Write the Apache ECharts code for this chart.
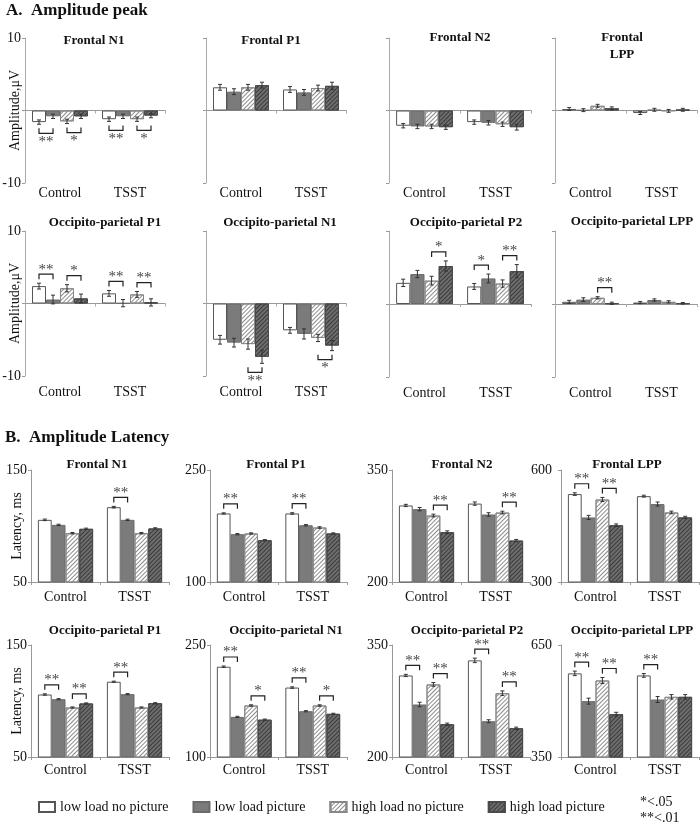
<!DOCTYPE html>
<html><head><meta charset="utf-8">
<script src="https://cdn.jsdelivr.net/npm/echarts@6/dist/echarts.min.js"></script>
<style>html,body{margin:0;padding:0;background:#fff}#c{width:700px;height:832px}</style>
</head><body><div id="c"></div>
<script>
// ---------- DATA ----------
const categories = ['Control', 'TSST'];
const conditions = ['low load no picture', 'low load picture', 'high load no picture', 'high load picture'];
// Rows = conditions (in the order above), columns = [Control, TSST]
// Significance entries: [categoryIndex, barA, barB, number of asterisks]

// Section A: amplitude peak (µV)
const ampFrontalN1 = [[-1.6, -1.2], [-0.8, -0.8], [-1.5, -1.2], [-0.8, -0.7]];
const ampFrontalN1Err = [[0.3, 0.3], [0.3, 0.3], [0.3, 0.3], [0.3, 0.3]];
const ampFrontalN1Sig = [[0, 0, 1, 2], [0, 2, 3, 1], [1, 0, 1, 2], [1, 2, 3, 1]];

const ampFrontalP1 = [[3.2, 2.9], [2.6, 2.5], [3.2, 3.1], [3.5, 3.4]];
const ampFrontalP1Err = [[0.4, 0.4], [0.4, 0.4], [0.4, 0.4], [0.4, 0.5]];
const ampFrontalP1Sig = [];

const ampFrontalN2 = [[-2.1, -1.6], [-2.2, -1.7], [-2.2, -1.9], [-2.3, -2.3]];
const ampFrontalN2Err = [[0.3, 0.3], [0.3, 0.3], [0.3, 0.3], [0.3, 0.4]];
const ampFrontalN2Sig = [];

const ampFrontalLPP = [[0.2, -0.35], [0.05, 0.1], [0.65, -0.05], [0.3, 0.1]];
const ampFrontalLPPErr = [[0.2, 0.2], [0.2, 0.2], [0.2, 0.2], [0.2, 0.2]];
const ampFrontalLPPSig = [];

const ampOccP1 = [[2.4, 1.4], [0.55, 0.05], [2.1, 1.25], [0.7, 0.15]];
const ampOccP1Err = [[0.4, 0.4], [0.6, 0.5], [0.5, 0.4], [0.6, 0.5]];
const ampOccP1Sig = [[0, 0, 1, 2], [0, 2, 3, 1], [1, 0, 1, 2], [1, 2, 3, 2]];

const ampOccN1 = [[-5.0, -3.7], [-5.4, -4.2], [-5.6, -4.75], [-7.35, -5.8]];
const ampOccN1Err = [[0.6, 0.4], [0.6, 0.7], [0.7, 0.5], [0.9, 0.7]];
const ampOccN1Sig = [[0, 2, 3, 2], [1, 2, 3, 1]];

const ampOccP2 = [[2.9, 2.4], [4.1, 3.5], [3.2, 2.8], [5.2, 4.5]];
const ampOccP2Err = [[0.5, 0.4], [0.5, 0.6], [0.6, 0.5], [0.7, 0.9]];
const ampOccP2Sig = [[0, 2, 3, 1], [1, 0, 1, 1], [1, 2, 3, 2]];

const ampOccLPP = [[0.3, 0.2], [0.6, 0.55], [0.85, 0.3], [0.1, 0.1]];
const ampOccLPPErr = [[0.2, 0.15], [0.25, 0.15], [0.15, 0.15], [0.15, 0.1]];
const ampOccLPPSig = [[0, 2, 3, 2]];

// Section B: latency (ms)
const latFrontalN1 = [[105.5, 116.8], [101, 105.5], [93.6, 93.6], [97.5, 97.8]];
const latFrontalN1Err = [[0.7, 0.7], [0.6, 0.6], [0.6, 0.6], [0.6, 0.6]];
const latFrontalN1Sig = [[1, 0, 1, 2]];

const latFrontalP1 = [[191.8, 191.8], [164, 176], [165, 173], [156, 165]];
const latFrontalP1Err = [[0.8, 1.0], [0.8, 0.9], [0.8, 1.0], [0.8, 0.8]];
const latFrontalP1Sig = [[0, 0, 1, 2], [1, 0, 1, 2]];

const latFrontalN2 = [[302.5, 305], [297.6, 290.4], [289, 293], [266.7, 255.5]];
const latFrontalN2Err = [[1.5, 2.2], [2.2, 2.4], [1.8, 1.8], [1.8, 1.5]];
const latFrontalN2Sig = [[0, 2, 3, 2], [1, 2, 3, 2]];

const latFrontalLPP = [[535.5, 530], [473, 508.7], [521, 486.3], [452, 473]];
const latFrontalLPPErr = [[3.5, 2.5], [5.5, 5.5], [5.5, 3.5], [3.5, 3]];
const latFrontalLPPSig = [[0, 0, 1, 2], [0, 2, 3, 2]];

const latOccP1 = [[105.8, 117.2], [101.6, 106.1], [94.2, 94.2], [97.8, 98]];
const latOccP1Err = [[0.6, 0.5], [0.5, 0.5], [0.5, 0.5], [0.5, 0.5]];
const latOccP1Sig = [[0, 0, 1, 2], [0, 2, 3, 2], [1, 0, 1, 2]];

const latOccN1 = [[220.9, 193], [153.7, 161.3], [169, 169], [150, 157.8]];
const latOccN1Err = [[1.0, 1.0], [0.8, 0.8], [0.9, 0.9], [0.8, 0.8]];
const latOccN1Sig = [[0, 0, 1, 2], [0, 2, 3, 1], [1, 0, 1, 2], [1, 2, 3, 1]];

const latOccP2 = [[309.2, 329.4], [270.3, 247.9], [297.2, 285.5], [243.9, 238.5]];
const latOccP2Err = [[1.5, 3], [3, 2], [2.5, 3], [1.5, 1.5]];
const latOccP2Sig = [[0, 0, 1, 2], [0, 2, 3, 2], [1, 0, 1, 2], [1, 2, 3, 2]];

const latOccLPP = [[574, 568.5], [499.6, 504], [555, 511.2], [464.7, 511.2]];
const latOccLPPErr = [[6, 5], [8, 8], [8, 6], [5, 6]];
const latOccLPPSig = [[0, 0, 1, 2], [0, 2, 3, 2], [1, 0, 1, 2]];

// Axis ranges (value-axis min/max)
const ampRange = [-10, 10];
const latRangesRow1 = [[50, 150], [100, 250], [200, 350], [300, 600]];
const latRangesRow2 = [[50, 150], [100, 250], [200, 350], [350, 650]];

const titlesA = ['Frontal N1', 'Frontal P1', 'Frontal N2', 'Frontal\nLPP',
  'Occipito-parietal P1', 'Occipito-parietal N1', 'Occipito-parietal P2', 'Occipito-parietal LPP'];
const titlesB = ['Frontal N1', 'Frontal P1', 'Frontal N2', 'Frontal LPP',
  'Occipito-parietal P1', 'Occipito-parietal N1', 'Occipito-parietal P2', 'Occipito-parietal LPP'];

// ---------- LAYOUT ----------
const FONT = '"Liberation Serif", "Times New Roman", serif';
const gridA = [
  [25, 38, 140, 145], [206, 38, 140, 145], [389, 38, 142, 145], [555, 38, 142, 145],
  [25, 231, 140, 145], [206, 231, 140, 145], [389, 231, 142, 146], [555, 231, 142, 146]
];
const gridB = [
  [31, 470, 138, 112], [210, 470, 137, 112], [392, 470, 138, 112], [561, 470, 138, 112],
  [31, 645, 138, 112], [210, 645, 137, 112], [392, 645, 138, 112], [561, 645, 138, 112]
];
const titlePosA = [[94, 41], [271, 41], [460, 38], [622, 46], [105, 223], [280, 223], [466, 223], [632, 222]];
const titlePosB = [[97, 465], [276, 465], [462, 465], [627, 465], [105, 631], [286, 631], [467, 631], [632, 631]];

const panelsA = [
  [ampFrontalN1, ampFrontalN1Err, ampFrontalN1Sig],
  [ampFrontalP1, ampFrontalP1Err, ampFrontalP1Sig],
  [ampFrontalN2, ampFrontalN2Err, ampFrontalN2Sig],
  [ampFrontalLPP, ampFrontalLPPErr, ampFrontalLPPSig],
  [ampOccP1, ampOccP1Err, ampOccP1Sig],
  [ampOccN1, ampOccN1Err, ampOccN1Sig],
  [ampOccP2, ampOccP2Err, ampOccP2Sig],
  [ampOccLPP, ampOccLPPErr, ampOccLPPSig]
];
const panelsB = [
  [latFrontalN1, latFrontalN1Err, latFrontalN1Sig],
  [latFrontalP1, latFrontalP1Err, latFrontalP1Sig],
  [latFrontalN2, latFrontalN2Err, latFrontalN2Sig],
  [latFrontalLPP, latFrontalLPPErr, latFrontalLPPSig],
  [latOccP1, latOccP1Err, latOccP1Sig],
  [latOccN1, latOccN1Err, latOccN1Sig],
  [latOccP2, latOccP2Err, latOccP2Sig],
  [latOccLPP, latOccLPPErr, latOccLPPSig]
];

// ---------- STYLES ----------
const barStyles = [
  { color: '#ffffff', borderColor: '#555', borderWidth: 1 },
  { color: '#7b7b7b', borderColor: '#6a6a6a', borderWidth: 1 },
  { color: '#ffffff', borderColor: '#888', borderWidth: 1,
    decal: { symbol: 'rect', symbolSize: 1, dashArrayX: [1, 0], dashArrayY: [1, 2], rotation: -Math.PI / 4, color: '#8c8c8c' } },
  { color: '#6e6e6e', borderColor: '#4a4a4a', borderWidth: 1,
    decal: { symbol: 'rect', symbolSize: 1, dashArrayX: [1, 0], dashArrayY: [1, 2], rotation: -Math.PI / 4, color: '#3a3a3a' } }
];
const BAR_FRAC = 0.8;

function barX(api, c, i, v) {
  const band = api.size([1, 0])[0];
  const bw = band * BAR_FRAC / 4;
  const cx = api.coord([c, v])[0];
  return cx - band * BAR_FRAC / 2 + bw * (i + 0.5);
}

function errRender(params, api) {
  const c = api.value(0), i = api.value(1), v = api.value(2), e = api.value(3);
  const x = barX(api, c, i, v);
  const y1 = api.coord([c, v + e])[1];
  const y2 = api.coord([c, v - e])[1];
  const st = { stroke: '#333', lineWidth: 1 };
  return { type: 'group', children: [
    { type: 'line', shape: { x1: x, y1: y1, x2: x, y2: y2 }, style: st },
    { type: 'line', shape: { x1: x - 2, y1: y1, x2: x + 2, y2: y1 }, style: st },
    { type: 'line', shape: { x1: x - 2, y1: y2, x2: x + 2, y2: y2 }, style: st }
  ]};
}

function sigRender(params, api) {
  const c = api.value(0), a = api.value(1), b = api.value(2), n = api.value(3);
  const ext = api.value(4), dir = api.value(5);
  const xa = barX(api, c, a, ext), xb = barX(api, c, b, ext);
  const yExt = api.coord([c, ext])[1];
  const leg = 5;
  const y = dir > 0 ? yExt - 9 : yExt + 9;
  const yl = dir > 0 ? y + leg : y - leg;
  const st = { stroke: '#222', lineWidth: 1.2, fill: null };
  return { type: 'group', children: [
    { type: 'polyline', shape: { points: [[xa, yl], [xa, y], [xb, y], [xb, yl]] }, style: st },
    { type: 'text', style: { x: (xa + xb) / 2, y: dir > 0 ? y + 3 : y + 1, text: '*'.repeat(n),
      font: '15px ' + FONT, fill: '#444', align: 'center', verticalAlign: dir > 0 ? 'bottom' : 'top' } }
  ]};
}

// ---------- BUILD ----------
const grids = [], xAxes = [], yAxes = [], series = [], graphics = [];

function addPanel(vals, errs, sigs, rect, sec, idx, range) {
  const g = grids.length;
  grids.push({ left: rect[0], top: rect[1], width: rect[2], height: rect[3],
    containLabel: false, outerBoundsMode: 'none' });
  const col = idx % 4, row = Math.floor(idx / 4);
  const mainX = xAxes.length;
  if (sec === 'A') {
    xAxes.push({ gridIndex: g, type: 'category', data: categories,
      axisLine: { onZero: true, lineStyle: { color: '#999', width: 1.2 } },
      axisTick: { show: true, length: 3, lineStyle: { color: '#aaa' } },
      axisLabel: { show: false }, splitLine: { show: false } });
    xAxes.push({ gridIndex: g, type: 'category', data: categories, position: 'bottom',
      axisLine: { show: false, onZero: false }, axisTick: { show: false },
      axisLabel: { margin: row === 0 ? 3 : 9, fontFamily: FONT, fontSize: 14, color: '#111' } });
  } else {
    xAxes.push({ gridIndex: g, type: 'category', data: categories,
      axisLine: { onZero: false, lineStyle: { color: '#999' } },
      axisTick: { show: true, length: 3, lineStyle: { color: '#999' } },
      axisLabel: { margin: row === 0 ? 8 : 6, fontFamily: FONT, fontSize: 14, color: '#111' } });
  }
  const showLabels = sec === 'B' || col === 0;
  const y = { gridIndex: g, type: 'value', min: range[0], max: range[1],
    interval: sec === 'A' ? 10 : range[1] - range[0],
    axisLine: { show: true, lineStyle: { color: sec === 'A' ? '#aaa' : '#999' } },
    axisTick: { show: true, length: 3, lineStyle: { color: '#999' } },
    splitLine: { show: false },
    axisLabel: { show: showLabels, fontFamily: FONT, fontSize: 14, color: '#111',
      margin: (sec === 'B' && col === 3) ? 9 : 4,
      formatter: v => (v === 0 ? '' : String(v)) } };
  if (col === 0) {
    y.name = sec === 'A' ? 'Amplitude,μV' : 'Latency, ms';
    y.nameLocation = 'middle';
    y.nameGap = sec === 'A' ? 3 : 7;
    y.nameMoveOverlap = false;
    y.nameTextStyle = { fontFamily: FONT, fontSize: 14, color: '#111' };
  }
  yAxes.push(y);

  for (let i = 0; i < 4; i++) {
    series.push({ type: 'bar', name: conditions[i], xAxisIndex: mainX, yAxisIndex: g,
      data: vals[i], barGap: '0%', barCategoryGap: ((1 - BAR_FRAC) * 100) + '%',
      itemStyle: barStyles[i], emphasis: { disabled: true }, silent: true });
  }
  const eData = [];
  for (let i = 0; i < 4; i++) for (let c = 0; c < 2; c++) eData.push([c, i, vals[i][c], errs[i][c]]);
  series.push({ type: 'custom', xAxisIndex: mainX, yAxisIndex: g, data: eData,
    encode: { x: 0, y: 2 }, renderItem: errRender, z: 5, silent: true });
  if (sigs.length) {
    const sData = sigs.map(s => {
      const [c, a, b, n] = s;
      const dir = vals[a][c] >= 0 ? 1 : -1;
      const ext = dir > 0 ? Math.max(vals[a][c] + errs[a][c], vals[b][c] + errs[b][c])
                          : Math.min(vals[a][c] - errs[a][c], vals[b][c] - errs[b][c]);
      return [c, a, b, n, ext, dir];
    });
    series.push({ type: 'custom', xAxisIndex: mainX, yAxisIndex: g, data: sData,
      encode: { x: 0, y: 4 }, renderItem: sigRender, z: 6, silent: true });
  }
}

panelsA.forEach((p, k) => addPanel(p[0], p[1], p[2], gridA[k], 'A', k, ampRange));
panelsB.forEach((p, k) => addPanel(p[0], p[1], p[2], gridB[k], 'B', k,
  k < 4 ? latRangesRow1[k] : latRangesRow2[k - 4]));

titlesA.forEach((t, k) => graphics.push({ type: 'text',
  x: titlePosA[k][0], y: titlePosA[k][1],
  style: { text: t, font: 'bold 13px ' + FONT, fill: '#111', align: 'center', verticalAlign: 'middle', lineHeight: 17 } }));
titlesB.forEach((t, k) => graphics.push({ type: 'text',
  x: titlePosB[k][0], y: titlePosB[k][1],
  style: { text: t, font: 'bold 13px ' + FONT, fill: '#111', align: 'center', verticalAlign: 'middle' } }));

graphics.push({ type: 'text', x: 6, y: 11, style: { text: 'A.  Amplitude peak', font: 'bold 17px ' + FONT, fill: '#111', verticalAlign: 'middle' } });
graphics.push({ type: 'text', x: 5, y: 438, style: { text: 'B.  Amplitude Latency', font: 'bold 17px ' + FONT, fill: '#111', verticalAlign: 'middle' } });
graphics.push({ type: 'text', x: 640, y: 802, style: { text: '*<.05', font: '14px ' + FONT, fill: '#111', verticalAlign: 'middle' } });
graphics.push({ type: 'text', x: 640, y: 818, style: { text: '**<.01', font: '14px ' + FONT, fill: '#111', verticalAlign: 'middle' } });

const chart = echarts.init(document.getElementById('c'), null, { renderer: 'canvas' });
chart.setOption({
  animation: false,
  backgroundColor: '#fff',
  grid: grids, xAxis: xAxes, yAxis: yAxes, series: series,
  legend: { data: conditions, left: 33, top: 795, itemWidth: 16, itemHeight: 10, itemGap: 24,
    icon: 'rect', selectedMode: false,
    textStyle: { fontFamily: FONT, fontSize: 14, color: '#111' } },
  graphic: graphics
});
</script></body></html>
